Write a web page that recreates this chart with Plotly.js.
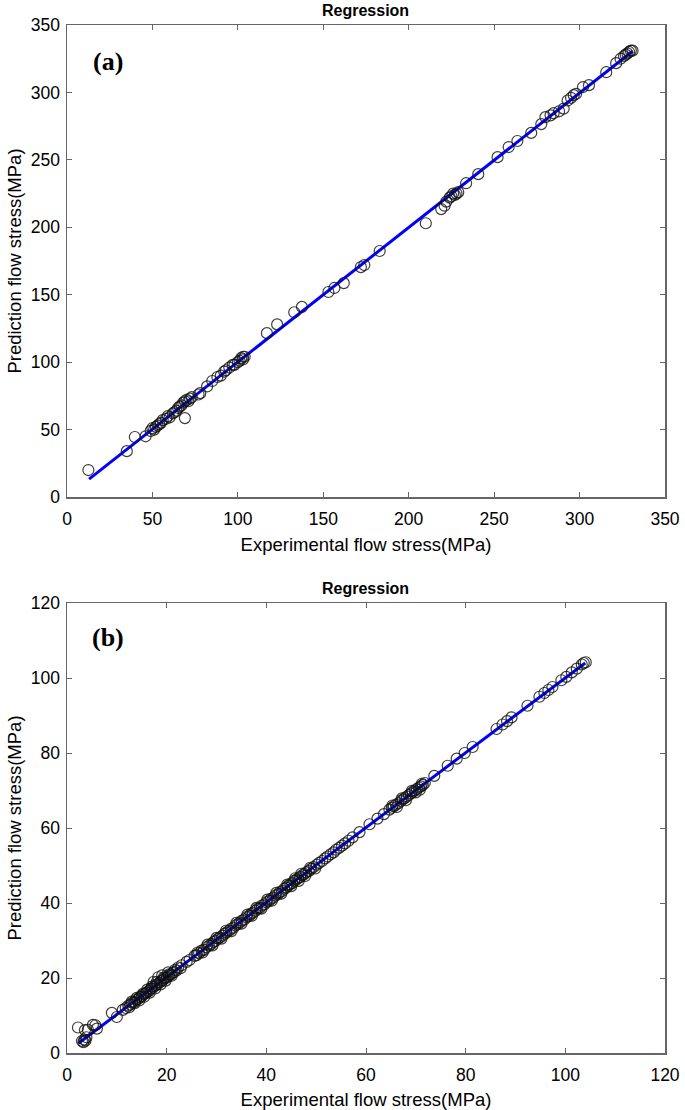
<!DOCTYPE html>
<html>
<head>
<meta charset="utf-8">
<script src="https://cdn.plot.ly/plotly-3.0.1.min.js"></script>
<style>html,body{margin:0;padding:0;background:#fff;}#chart{width:685px;height:1110px;}</style>
</head>
<body>
<div id="chart"></div>
<script>
// Panel (a) data
const aExp = [12.5,35,39.7,46,49,50,51,52,53,54,55,56,58,59,60,62,63,64,65,66,67,68,69,70,71,72,73,69,77,78,82,85,88,90,92,93,95,97,98,100,101,102,103,104,103,117,123,133,137.5,153,156.5,162,172,174,183,210,219,221,222,224,225,226,227,228,229,233.6,240.7,252,258.5,263.6,271.7,277.6,280,283,284.8,288,290.7,293,295,296.6,298,302,305.5,315.6,321.4,324,326,327,328,329,330,331];
const aPred = [20,34,44.5,45,49,51,50,52,53,54,55,57,58,60,59,62,63,64,66,67,68,70,71,72,71,73,74,58.5,76,77,82,86,89,90,93,94,96,98,98,100,101,103,104,104,102,121.5,128,137,141,152,155,158.6,170.5,172,182.4,203,213.5,216,219,222,223,225,224,225,226,232.7,239.4,252,259.5,264,270,276.5,281.7,283,284.6,286,288,294,296,298,299,304,305.4,315,321.7,325,327,328,329,330,331,331];
const aFitX = [12.9, 331];
const aFitY = [13.3, 330.5];

// Panel (b) data
const bExp = [2.2,3.0,3.3,3.5,3.7,3.9,3.6,4.2,5.2,5.7,6.0,9.0,10.0,11.2,11.8,12.3,12.7,13.1,13.5,13.9,14.3,14.6,15.0,15.3,15.7,16.0,16.4,16.8,17.1,17.5,17.4,17.9,18.2,18.3,18.6,18.9,19.1,19.3,19.6,20.0,20.3,20.4,20.8,21.2,21.5,22.0,22.3,22.8,23.0,24.0,24.6,25.6,26.0,26.5,27.0,27.5,28.0,28.5,29.0,29.4,29.8,30.3,30.7,31.2,31.6,32.0,32.5,32.9,33.4,33.8,34.2,34.7,35.1,35.6,36.0,36.5,36.9,37.3,37.8,38.2,38.7,39.1,39.6,40.0,40.5,40.9,41.4,41.8,42.3,42.7,43.2,43.6,44.0,44.4,44.8,45.2,45.6,46.0,46.4,46.8,47.2,47.6,48.0,48.5,49.0,49.5,50.1,50.6,51.2,51.8,52.3,52.9,53.5,54.0,54.6,55.2,55.8,56.5,57.3,58.7,60.7,62.3,63.6,64.7,65.2,65.6,66.0,66.5,67.0,67.4,67.8,68.2,68.6,69.0,69.4,69.8,70.2,70.6,71.0,71.4,71.8,73.7,76.4,78.2,79.8,81.4,86.2,87.4,88.3,89.2,92.4,94.8,95.8,96.6,97.4,99.2,100.2,101.3,102.3,103.3,104.1,103.7,
  12.5,13.0,13.6,14.0,14.5,15.2,15.5,16.1,16.6,17.0,17.7,18.0,18.8,19.4,19.8,20.5,21.0,21.7,
  26.2,27.2,28.2,29.2,30.0,31.0,31.9,33.0,34.0,35.0,36.2,37.1,38.0,39.0,40.2,41.1,42.0,43.0,44.2,45.0,45.8,46.5,47.0,47.8,48.8,49.8,
  65.3,66.2,67.2,68.0,69.2,70.0,71.2,70.8];
const bPred = [6.8,3.2,2.9,3.6,3.3,4.2,6.1,6.2,7.5,7.4,6.5,10.7,9.6,11.5,12.0,12.6,12.9,13.4,13.6,14.2,14.4,14.9,15.1,15.6,15.9,16.2,16.5,17.1,17.2,17.8,19.0,18.1,18.4,20.2,18.8,19.2,20.7,19.5,19.9,20.1,21.5,20.6,20.9,21.4,21.6,22.0,22.8,22.6,23.4,24.3,24.8,25.9,26.1,26.6,27.3,27.5,28.2,28.6,29.1,29.6,29.9,30.5,30.8,31.3,31.8,32.1,32.6,33.1,33.4,34.0,34.3,34.8,35.3,35.6,36.2,36.5,37.1,37.4,37.9,38.4,38.7,39.3,39.6,40.2,40.5,41.1,41.4,42.0,42.3,42.9,43.2,43.8,44.1,44.6,45.0,45.3,45.9,46.2,46.6,46.9,47.4,47.7,48.2,48.5,49.1,49.6,50.2,50.7,51.2,51.9,52.4,53.0,53.5,54.2,54.7,55.3,55.9,56.6,57.5,58.9,61.0,62.5,63.7,64.9,65.4,65.8,66.2,66.6,67.2,67.6,68.0,68.4,68.8,69.2,69.6,70.0,70.4,70.8,71.1,71.5,72.0,73.9,76.6,78.5,80.0,81.6,86.4,87.6,88.5,89.5,92.6,95.0,96.0,96.8,97.6,99.4,100.3,101.5,102.5,103.6,104.2,104.0,
  12.2,13.7,13.3,14.7,14.0,15.8,15.0,16.9,16.1,17.7,17.2,18.9,18.3,20.1,19.3,21.0,20.6,22.2,
  26.8,26.8,28.9,28.7,30.7,30.5,32.6,32.5,34.7,34.5,36.9,36.6,38.7,38.5,40.9,40.6,42.7,42.5,44.9,44.5,46.6,45.9,47.8,47.2,49.4,49.2,
  66.0,65.6,67.9,67.4,69.9,69.5,71.8,70.2];
const bFitX = [2.3, 104];
const bFitY = [2.6, 104];

const markerStyle = {symbol:'circle-open', size:11, color:'rgba(15,15,15,0.8)', line:{width:1.2, color:'rgba(15,15,15,0.8)'}};
const lineStyle = {color:'#0000ff', width:3};

const traces = [
  {x:aFitX, y:aFitY, type:'scatter', mode:'lines', line:lineStyle, xaxis:'x', yaxis:'y', hoverinfo:'skip'},
  {x:aExp, y:aPred, type:'scatter', mode:'markers', marker:markerStyle, xaxis:'x', yaxis:'y'},
  {x:bFitX, y:bFitY, type:'scatter', mode:'lines', line:lineStyle, xaxis:'x2', yaxis:'y2', hoverinfo:'skip'},
  {x:bExp, y:bPred, type:'scatter', mode:'markers', marker:markerStyle, xaxis:'x2', yaxis:'y2'}
];

const tickFont = {family:'Liberation Sans, Arial, sans-serif', size:17.5, color:'#000'};
const titleFont = {family:'Liberation Sans, Arial, sans-serif', size:18.5, color:'#000'};
function ax(extra){
  return Object.assign({
    showgrid:false, zeroline:false, showline:true, linecolor:'#666', linewidth:1.5,
    mirror:'ticks', ticks:'inside', ticklen:5, tickcolor:'#666', tickwidth:1,
    tickfont:tickFont, automargin:false
  }, extra);
}

const xd = [67/685, 665/685];
const layout = {
  width:685, height:1110,
  margin:{l:0, r:0, t:0, b:0},
  paper_bgcolor:'#fff', plot_bgcolor:'#fff',
  showlegend:false,
  xaxis: ax({domain:xd, anchor:'y', range:[0,350], tickvals:[0,50,100,150,200,250,300,350], ticklabelstandoff:5,
    title:{text:'Experimental flow stress(MPa)', font:titleFont, standoff:10}}),
  yaxis: ax({domain:[1-497/1110, 1-25/1110], anchor:'x', range:[0,350], tickvals:[0,50,100,150,200,250,300,350], ticklabelstandoff:2,
    title:{text:'Prediction flow stress(MPa)', font:titleFont, standoff:4}}),
  xaxis2: ax({domain:xd, anchor:'y2', range:[0,120], tickvals:[0,20,40,60,80,100,120], ticklabelstandoff:5,
    title:{text:'Experimental flow stress(MPa)', font:titleFont, standoff:10}}),
  yaxis2: ax({domain:[1-1053/1110, 1-603/1110], anchor:'x2', range:[0,120], tickvals:[0,20,40,60,80,100,120], ticklabelstandoff:2,
    title:{text:'Prediction flow stress(MPa)', font:titleFont, standoff:4}}),
  annotations:[
    {text:'<b>Regression</b>', xref:'paper', yref:'paper', x:366/685, y:1-10/1110, xanchor:'center', yanchor:'middle', showarrow:false,
      font:{family:'Liberation Sans, Arial, sans-serif', size:16, color:'#000'}},
    {text:'<b>Regression</b>', xref:'paper', yref:'paper', x:366/685, y:1-588/1110, xanchor:'center', yanchor:'middle', showarrow:false,
      font:{family:'Liberation Sans, Arial, sans-serif', size:16, color:'#000'}},
    {text:'<b>(a)</b>', xref:'paper', yref:'paper', x:108/685, y:1-62/1110, xanchor:'center', yanchor:'middle', showarrow:false,
      font:{family:'Liberation Serif, Times New Roman, serif', size:26, color:'#000'}},
    {text:'<b>(b)</b>', xref:'paper', yref:'paper', x:108/685, y:1-637/1110, xanchor:'center', yanchor:'middle', showarrow:false,
      font:{family:'Liberation Serif, Times New Roman, serif', size:26, color:'#000'}}
  ]
};

Plotly.newPlot('chart', traces, layout, {displayModeBar:false, staticPlot:true});
</script>
</body>
</html>
